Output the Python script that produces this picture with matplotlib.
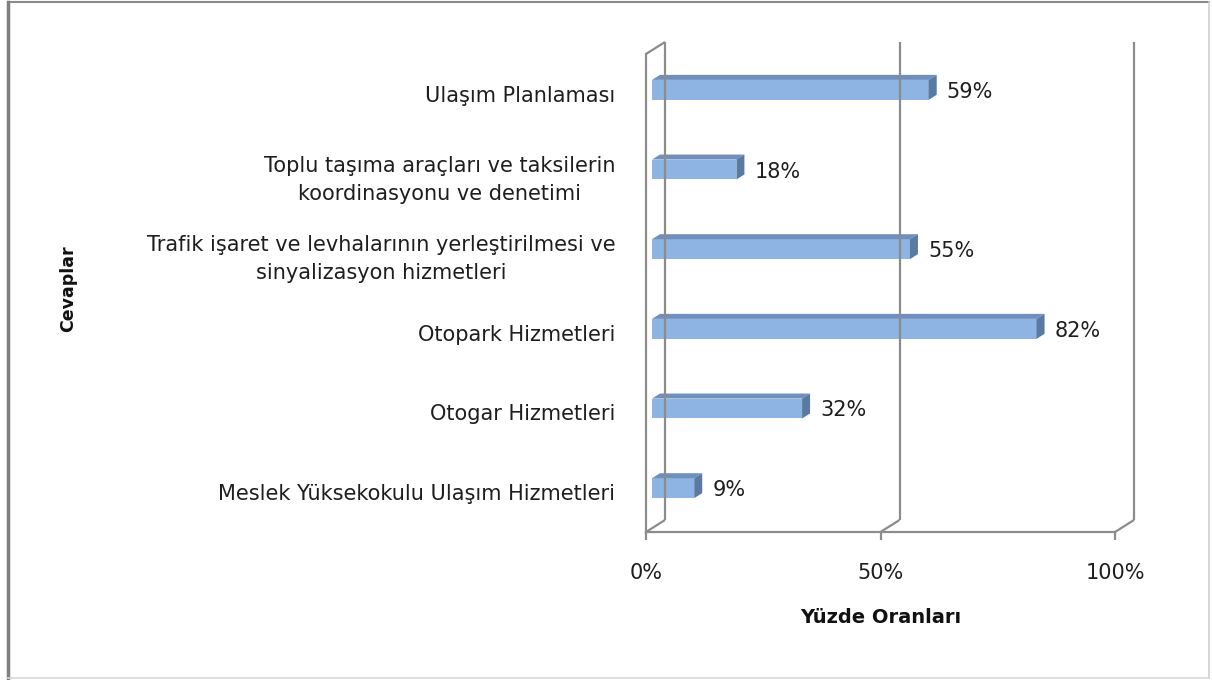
import numpy as np
import matplotlib
matplotlib.use('Agg')
import matplotlib.pyplot as plt
from matplotlib.patches import Polygon
from matplotlib.lines import Line2D
from matplotlib.transforms import IdentityTransform

# data (bottom to top)
categories = [
    'Meslek Yüksekokulu Ulaşım Hizmetleri',
    'Otogar Hizmetleri',
    'Otopark Hizmetleri',
    'Trafik işaret ve levhalarının yerleştirilmesi ve\nsinyalizasyon hizmetleri',
    'Toplu taşıma araçları ve taksilerin\nkoordinasyonu ve denetimi',
    'Ulaşım Planlaması',
]
values = [9, 32, 82, 55, 18, 59]
xticks = [0, 50, 100]
xticklabels = ['0%', '50%', '100%']

W, H = 1212, 680
fig = plt.figure(figsize=(W / 100, H / 100), dpi=100)
fig.patch.set_facecolor('white')

# front plane of the 3d box (pixels from the top-left corner)
x0, x1 = 646, 1115
ytop, ybot = 54, 532
ax = fig.add_axes([x0 / W, (H - ybot) / H, (x1 - x0) / W, (ybot - ytop) / H])
ax.set_xlim(0, 100)
ax.set_ylim(-0.5, len(categories) - 0.5)
ax.set_facecolor('none')

txt_c = '#1e1e1e'
grid_c = '#8c8c8c'
fs = 15
for s in ['top', 'right']:
    ax.spines[s].set_visible(False)
for s in ['left', 'bottom']:
    ax.spines[s].set_color(grid_c)
    ax.spines[s].set_linewidth(1.6)

ax.set_xticks(xticks)
ax.set_xticklabels(xticklabels, fontsize=fs, color=txt_c)
ax.tick_params(axis='x', length=6, width=1.6, color=grid_c, pad=16)
ax.set_yticks(range(len(categories)))
ax.set_yticklabels(categories, fontsize=fs, color=txt_c, ha='right',
                   multialignment='center', linespacing=1.5)
ax.tick_params(axis='y', length=0, pad=22)

ax.set_xlabel('Yüzde Oranları', fontsize=14, fontweight='bold',
              color='#111111', labelpad=18)
ax.set_ylabel('Cevaplar', fontsize=12.5, fontweight='bold', color='#111111')
ax.yaxis.set_label_coords((77 - x0) / (x1 - x0), 0.51)

ident = IdentityTransform()


def P(x, y, dx=0, dy=0):
    px, py = ax.transData.transform((x, y))
    return (px + dx, py + dy)


def seg(a, b, **kw):
    ln = Line2D([a[0], b[0]], [a[1], b[1]], transform=ident, color=grid_c,
                lw=1.6, solid_capstyle='butt', clip_on=False, **kw)
    fig.add_artist(ln)


# back wall and floor edges
bdx, bdy = 19, 12
ylo, yhi = -0.5, len(categories) - 0.5
for xt in xticks:
    seg(P(xt, ylo, bdx, bdy), P(xt, yhi, bdx, bdy))
    seg(P(xt, ylo), P(xt, ylo, bdx, bdy))
seg(P(0, yhi), P(0, yhi, bdx, bdy))

# bars with a little depth
h = 0.25
fdx, fdy = 6, 4      # bar front face offset
ddx, ddy = 8, 5      # bar depth
front_c = '#8db4e2'
top_c = '#6f8fbd'
side_c = '#5a7aa2'
for i, v in enumerate(values):
    a = P(0, i - h / 2, fdx, fdy)
    b = P(v, i + h / 2, fdx, fdy)
    front = Polygon([a, (b[0], a[1]), b, (a[0], b[1])], closed=True,
                    transform=ident, facecolor=front_c, edgecolor='none')
    top = Polygon([(a[0], b[1]), b, (b[0] + ddx, b[1] + ddy),
                   (a[0] + ddx, b[1] + ddy)], closed=True,
                  transform=ident, facecolor=top_c, edgecolor='none')
    side = Polygon([(b[0], a[1]), b, (b[0] + ddx, b[1] + ddy),
                    (b[0] + ddx, a[1] + ddy)], closed=True,
                   transform=ident, facecolor=side_c, edgecolor='none')
    for p in (front, top, side):
        fig.add_artist(p)
    ax.annotate(f'{v}%', xy=(v, i), xytext=(fdx + 18, fdy - 2),
                textcoords='offset pixels', va='center', ha='left',
                fontsize=fs, color=txt_c)

# outer frame
def fline(xa, ya, xb, yb, c, lw):
    fig.add_artist(Line2D([xa / W, xb / W], [1 - ya / H, 1 - yb / H],
                          transform=fig.transFigure, color=c, lw=lw))

fline(8, 2, 1209, 2, '#8a8a8a', 1.5)
fline(8, 2, 8, 678, '#7f7f7f', 2.5)
fline(1209, 2, 1209, 678, '#d0d0d0', 1.2)
fline(8, 678, 1209, 678, '#d8d8d8', 1.2)

fig.savefig('out.png', dpi=100, facecolor='white')
